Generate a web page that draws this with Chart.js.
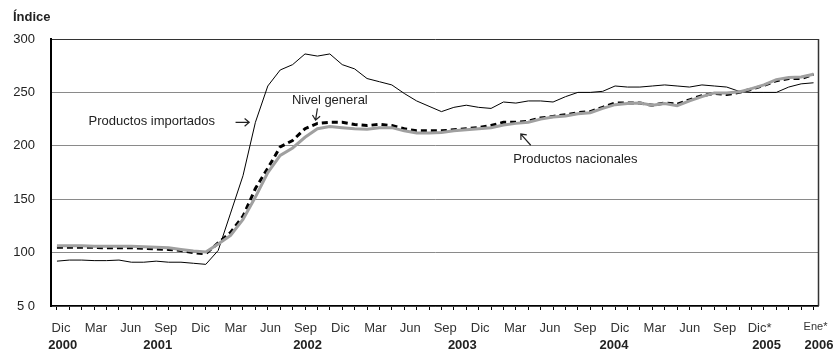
<!DOCTYPE html>
<html>
<head>
<meta charset="utf-8">
<script src="https://cdn.jsdelivr.net/npm/chart.js@4"></script>
<style>
  html, body { margin: 0; padding: 0; background: #fff; }
  #wrap { width: 838px; height: 354px; }
</style>
</head>
<body>
<div id="wrap"><canvas id="grafico"></canvas></div>
<script>
// Meses de la serie (Dic 2000 - Ene 2006)
var meses = [
  'Dic 2000',
  'Ene 2001', 'Feb 2001', 'Mar 2001', 'Abr 2001', 'May 2001', 'Jun 2001', 'Jul 2001', 'Ago 2001', 'Sep 2001', 'Oct 2001', 'Nov 2001', 'Dic 2001',
  'Ene 2002', 'Feb 2002', 'Mar 2002', 'Abr 2002', 'May 2002', 'Jun 2002', 'Jul 2002', 'Ago 2002', 'Sep 2002', 'Oct 2002', 'Nov 2002', 'Dic 2002',
  'Ene 2003', 'Feb 2003', 'Mar 2003', 'Abr 2003', 'May 2003', 'Jun 2003', 'Jul 2003', 'Ago 2003', 'Sep 2003', 'Oct 2003', 'Nov 2003', 'Dic 2003',
  'Ene 2004', 'Feb 2004', 'Mar 2004', 'Abr 2004', 'May 2004', 'Jun 2004', 'Jul 2004', 'Ago 2004', 'Sep 2004', 'Oct 2004', 'Nov 2004', 'Dic 2004',
  'Ene 2005', 'Feb 2005', 'Mar 2005', 'Abr 2005', 'May 2005', 'Jun 2005', 'Jul 2005', 'Ago 2005', 'Sep 2005', 'Oct 2005', 'Nov 2005', 'Dic 2005',
  'Ene 2006'
];

// Índices (lectura aproximada del gráfico)
var importados = [
  92, 93, 93, 92.5, 92.5, 93, 91, 91, 92, 91, 91, 90, 89,
  102, 137, 172, 222, 256, 271, 276, 286, 284, 286, 276, 272,
  263, 260, 257, 249, 242, 237, 232, 236, 238, 236, 235, 241,
  240, 242, 242, 241, 246, 250, 250, 251, 256, 255, 255, 256,
  257, 256, 255, 257, 256, 255, 251, 250, 250, 250, 255, 258,
  259
];
var nivelGeneral = [
  105, 105, 105, 105, 104.5, 104.5, 104.5, 104, 103.5, 103, 102, 100, 99,
  109, 119, 134, 160, 179, 199, 205, 216, 221, 222, 222, 220,
  219, 220, 219, 216, 214, 214, 214, 215, 216, 217, 219, 222,
  222, 223, 226, 227.5, 229, 231, 232, 236, 240, 240, 240, 238,
  240, 239, 243, 247, 249, 248, 250, 253, 256.5, 261, 263, 263,
  267
];
var nacionales = [
  106.5, 106.5, 106.5, 106, 106, 106, 106, 105.5, 105, 104.5, 103, 101.5, 100.5,
  108, 116, 131, 152, 175, 191, 198, 208, 216, 218, 217, 216,
  215.5, 217, 217, 214, 212, 212, 212.5, 214, 215, 216, 217, 219.5,
  221, 222, 225, 227, 228, 230, 231, 235, 238.5, 239.5, 240, 238,
  239.5, 237.5, 242, 246, 249.5, 249.5, 250.5, 253.5, 257, 262, 264, 264.5,
  267
];

// Etiquetas de los ejes
var etiquetasY = ['5 0', '100', '150', '200', '250', '300'];
var valoresY = [50, 100, 150, 200, 250, 300];
var etiquetasMes = ['Dic', 'Mar', 'Jun', 'Sep', 'Dic', 'Mar', 'Jun', 'Sep', 'Dic', 'Mar', 'Jun', 'Sep',
                    'Dic', 'Mar', 'Jun', 'Sep', 'Dic', 'Mar', 'Jun', 'Sep', 'Dic*', 'Ene*'];
var posMes = [0, 1, 2, 3, 4, 5, 6, 7, 8, 9, 10, 11, 12, 13, 14, 15, 16, 17, 18, 19, 20, 21.6];
var etiquetasAnio = ['2000', '2001', '2002', '2003', '2004', '2005', '2006'];
var posAnio = [0.05, 2.77, 7.06, 11.49, 15.83, 20.2, 21.7];

var fuente = '"Liberation Sans", Arial, sans-serif';

function puntos(serie) {
  return serie.map(function (v, i) { return { x: i, y: v }; });
}

function flecha(ctx, x0, y0, x1, y1) {
  var ang = Math.atan2(y1 - y0, x1 - x0);
  ctx.beginPath();
  ctx.moveTo(x0, y0);
  ctx.lineTo(x1, y1);
  ctx.moveTo(x1 - 6 * Math.cos(ang - 0.7), y1 - 6 * Math.sin(ang - 0.7));
  ctx.lineTo(x1, y1);
  ctx.lineTo(x1 - 6 * Math.cos(ang + 0.7), y1 - 6 * Math.sin(ang + 0.7));
  ctx.stroke();
}

// Textos, flechas y marco
var anotaciones = {
  id: 'anotaciones',
  afterDraw: function (chart) {
    var ctx = chart.ctx;
    var xs = chart.scales.x, ys = chart.scales.y;
    var a = chart.chartArea;
    ctx.save();
    // marco derecho
    ctx.strokeStyle = '#333';
    ctx.lineWidth = 1.5;
    ctx.beginPath();
    ctx.moveTo(a.right, a.top);
    ctx.lineTo(a.right, a.bottom);
    ctx.stroke();

    ctx.fillStyle = '#222';
    ctx.font = 'bold 13px ' + fuente;
    ctx.textAlign = 'left';
    ctx.textBaseline = 'middle';
    ctx.fillText('Índice', 13, 17);

    ctx.font = '13px ' + fuente;
    ctx.textAlign = 'center';
    ctx.fillText('Productos importados', xs.getPixelForValue(7.65), ys.getPixelForValue(223));
    ctx.fillText('Nivel general', xs.getPixelForValue(22), ys.getPixelForValue(242.6));
    ctx.fillText('Productos nacionales', xs.getPixelForValue(41.8), ys.getPixelForValue(187));

    ctx.strokeStyle = '#222';
    ctx.lineWidth = 1.2;
    flecha(ctx, xs.getPixelForValue(14.4), ys.getPixelForValue(222), xs.getPixelForValue(15.5), ys.getPixelForValue(222));
    flecha(ctx, xs.getPixelForValue(21.0), ys.getPixelForValue(235), xs.getPixelForValue(20.85), ys.getPixelForValue(224));
    flecha(ctx, xs.getPixelForValue(38.2), ys.getPixelForValue(200.5), xs.getPixelForValue(37.4), ys.getPixelForValue(211));
    ctx.restore();
  }
};

var ctx = document.getElementById('grafico').getContext('2d');
var grafico = new Chart(ctx, {
  type: 'line',
  data: {
    labels: meses,
    datasets: [
      {
        label: 'Productos importados',
        data: puntos(importados),
        borderColor: '#000',
        borderWidth: 1,
        pointRadius: 0,
        tension: 0,
        order: 3
      },
      {
        label: 'Nivel general',
        data: puntos(nivelGeneral),
        borderColor: '#000',
        borderWidth: 3,
        borderDash: [6, 4],
        pointRadius: 0,
        tension: 0,
        order: 2
      },
      {
        label: 'Productos nacionales',
        data: puntos(nacionales),
        borderColor: '#a0a0a0',
        borderWidth: 3,
        pointRadius: 0,
        tension: 0,
        order: 1
      }
    ]
  },
  options: {
    responsive: true,
    maintainAspectRatio: false,
    animation: false,
    layout: { padding: { left: 0, right: 18, top: 39, bottom: 0 } },
    plugins: {
      legend: { display: false },
      tooltip: { enabled: false }
    },
    scales: {
      x: {
        type: 'linear',
        position: 'bottom',
        weight: 0,
        min: -0.48,
        max: 61.4,
        afterBuildTicks: function (axis) {
          axis.ticks = meses.map(function (m, i) { return { value: i }; });
        },
        afterFit: function (axis) { axis.height = 4; },
        ticks: { display: false },
        grid: { display: true, drawOnChartArea: false, drawTicks: true, tickLength: 4, color: '#000', tickWidth: 1 },
        border: { display: true, color: '#000', width: 1.5 }
      },
      xm: {
        type: 'linear',
        position: 'bottom',
        weight: 1,
        min: -0.286,
        max: 21.686,
        afterBuildTicks: function (axis) {
          axis.ticks = posMes.map(function (v) { return { value: v }; });
        },
        afterFit: function (axis) { axis.height = 27; },
        ticks: {
          autoSkip: false,
          maxRotation: 0,
          padding: 10.5,
          color: '#333',
          font: function (c) {
            return { family: fuente, size: c.index === etiquetasMes.length - 1 ? 11 : 13 };
          },
          callback: function (v, i) { return etiquetasMes[i]; }
        },
        grid: { display: false, drawTicks: false },
        border: { display: false }
      },
      xa: {
        type: 'linear',
        position: 'bottom',
        weight: 2,
        min: -0.286,
        max: 21.686,
        afterBuildTicks: function (axis) {
          axis.ticks = posAnio.map(function (v) { return { value: v }; });
        },
        afterFit: function (axis) { axis.height = 17; },
        ticks: {
          autoSkip: false,
          maxRotation: 0,
          padding: 0.5,
          color: '#222',
          font: { family: fuente, size: 13, weight: 'bold' },
          callback: function (v, i) { return etiquetasAnio[i]; }
        },
        grid: { display: false, drawTicks: false },
        border: { display: false }
      },
      y: {
        min: 50,
        max: 300,
        afterBuildTicks: function (axis) {
          axis.ticks = valoresY.map(function (v) { return { value: v }; });
        },
        afterFit: function (axis) { axis.width = 51; },
        ticks: {
          padding: 16,
          color: '#222',
          font: { family: fuente, size: 13 },
          callback: function (v, i) { return etiquetasY[i]; }
        },
        grid: {
          drawTicks: false,
          lineWidth: 1,
          color: function (c) { return c.tick && c.tick.value === 300 ? '#333' : '#8a8a8a'; }
        },
        border: { display: true, color: '#000', width: 2 }
      }
    }
  },
  plugins: [anotaciones]
});
</script>
</body>
</html>
